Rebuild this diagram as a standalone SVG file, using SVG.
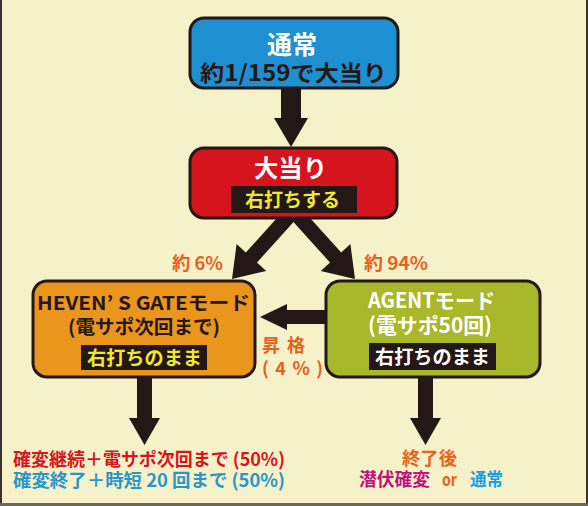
<svg xmlns="http://www.w3.org/2000/svg" width="588" height="506" viewBox="0 0 588 506">
<defs>
<style>
.t{font-family:"Noto Sans CJK JP","Noto Sans",sans-serif;font-weight:bold}
.box{stroke:#231815;stroke-width:3}
.lab{fill:#231815}
.arr{fill:#231815}
.pct{fill:#E8601E;font-size:18px}
</style>
</defs>
<rect x="0" y="0" width="588" height="506" fill="#F5F1C8"/>
<line x1="1" y1="0" x2="1" y2="505" stroke="#3a3030" stroke-width="2"/>
<line x1="587" y1="0" x2="587" y2="505" stroke="#3a3030" stroke-width="2"/>
<line x1="0" y1="504.5" x2="588" y2="504.5" stroke="#6a6660" stroke-width="3"/>

<g id="connectors">
<polygon class="arr" points="281,86 301,86 301,118 308,118 291,147 274,118 281,118"/>
<polygon class="arr" points="291.4,202 245.8,252.5 236.6,244.1 232,279 266.2,270.9 257,262.5 302.6,212"/>
<polygon class="arr" points="295.6,202 341.2,252.5 350.4,244.1 355,279 320.8,270.9 330,262.5 284.4,212"/>
<polygon class="arr" points="330,310 287,310 287,304 260,317 287,330 287,324 330,324"/>
<polygon class="arr" points="137,372 152,372 152,418 160,418 144.5,445 129,418 137,418"/>
<polygon class="arr" points="418,372 433,372 433,418 441,418 425.5,445 410,418 418,418"/>
</g>

<g id="node-normal">
<rect class="box" x="190" y="18" width="208" height="70" rx="14" fill="#1E8FD0"/>
<text class="t" x="267" y="53.5" font-size="25" fill="#FFFFFF" textLength="50" lengthAdjust="spacingAndGlyphs">通常</text>
<text class="t" x="200" y="81" font-size="22" fill="#231815" textLength="187" lengthAdjust="spacingAndGlyphs">約1/159で大当り</text>
</g>

<g id="node-bigwin">
<rect class="box" x="190" y="148" width="207" height="70" rx="14" fill="#D6141D"/>
<text class="t" x="254" y="176.5" font-size="24" fill="#FFFFFF" textLength="73" lengthAdjust="spacingAndGlyphs">大当り</text>
<rect class="lab" x="231" y="186" width="126" height="27"/>
<text class="t" x="245" y="206.5" font-size="19" fill="#F2E62E" textLength="95" lengthAdjust="spacingAndGlyphs">右打ちする</text>
</g>

<g id="node-heaven">
<rect class="box" x="33" y="281" width="222" height="96" rx="14" fill="#EA951C"/>
<text class="t" x="37" y="310" font-size="19" fill="#231815" textLength="213" lengthAdjust="spacingAndGlyphs">HEVEN’ S GATEモード</text>
<text class="t" x="68" y="334" font-size="19" fill="#231815" textLength="152" lengthAdjust="spacingAndGlyphs">(電サポ次回まで)</text>
<rect class="lab" x="81" y="345" width="126" height="25"/>
<text class="t" x="87" y="364.5" font-size="19" fill="#F2E62E" textLength="115" lengthAdjust="spacingAndGlyphs">右打ちのまま</text>
</g>

<g id="node-agent">
<rect class="box" x="326" y="281" width="214" height="96" rx="14" fill="#A9B82A"/>
<text class="t" x="368" y="307.5" font-size="21" fill="#FFFFFF" textLength="127" lengthAdjust="spacingAndGlyphs">AGENTモード</text>
<text class="t" x="368" y="332.5" font-size="21" fill="#FFFFFF" textLength="124" lengthAdjust="spacingAndGlyphs">(電サポ50回)</text>
<rect class="lab" x="369" y="343" width="127" height="27"/>
<text class="t" x="375" y="363.5" font-size="19" fill="#FFFFFF" textLength="115" lengthAdjust="spacingAndGlyphs">右打ちのまま</text>
</g>

<g id="labels">
<text class="t pct" x="172" y="270" textLength="51" lengthAdjust="spacingAndGlyphs">約 6%</text>
<text class="t pct" x="364" y="270" textLength="64" lengthAdjust="spacingAndGlyphs">約 94%</text>
<text class="t pct" x="262" y="352" textLength="43" lengthAdjust="spacing">昇 格</text>
<text class="t pct" x="262" y="375" textLength="61" lengthAdjust="spacing">( 4 % )</text>
</g>

<g id="result-heaven">
<text class="t" x="13" y="466" font-size="18" fill="#D8141E" textLength="272" lengthAdjust="spacingAndGlyphs">確変継続＋電サポ次回まで (50%)</text>
<text class="t" x="13" y="487" font-size="18" fill="#2A96C8" textLength="272" lengthAdjust="spacingAndGlyphs">確変終了＋時短 20 回まで (50%)</text>
</g>

<g id="result-agent">
<text class="t" x="402" y="464.5" font-size="18" fill="#E8641A" textLength="55" lengthAdjust="spacingAndGlyphs">終了後</text>
<text class="t" x="359" y="486" font-size="18" fill="#C0147C" textLength="71" lengthAdjust="spacingAndGlyphs">潜伏確変</text>
<text class="t" x="442" y="486" font-size="18" fill="#E8641A" textLength="15" lengthAdjust="spacingAndGlyphs">or</text>
<text class="t" x="470" y="486" font-size="18" fill="#1EA0E0" textLength="33" lengthAdjust="spacingAndGlyphs">通常</text>
</g>
</svg>
